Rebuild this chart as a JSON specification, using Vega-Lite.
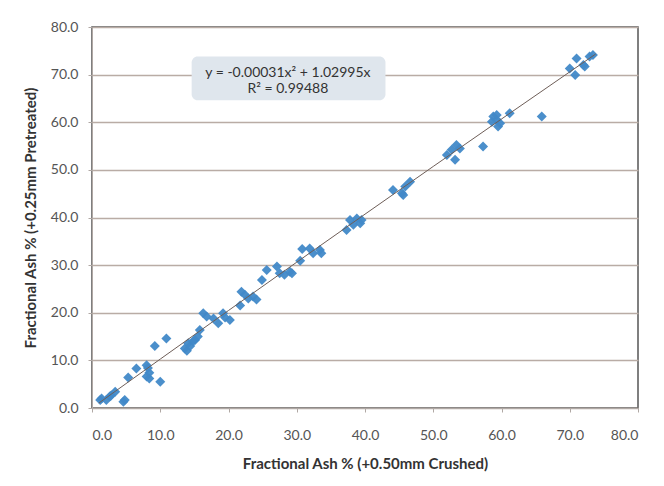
{
  "$schema": "https://vega.github.io/schema/vega-lite/v6.json",
  "autosize": "none",
  "width": 546,
  "height": 381,
  "padding": {"left": 92, "top": 27, "right": 26, "bottom": 78},
  "background": "white",
  "config": {
    "font": "Lato",
    "view": {"stroke": "#555555", "strokeWidth": 1.5},
    "axis": {
      "labelFont": "Lato", "labelFontSize": 14, "labelColor": "#555555",
      "titleFont": "Lato", "titleFontSize": 15, "titleFontWeight": "bold", "titleColor": "#333333",
      "domainColor": "#b0a8a4", "tickColor": "#b0a8a4", "tickSize": 4,
      "gridColor": "#b9aca5", "gridWidth": 1.3
    }
  },
  "datasets": {
    "pts": [
      {"x": 1.2, "y": 1.7}, {"x": 1.4, "y": 2.0}, {"x": 2.1, "y": 1.7}, {"x": 2.6, "y": 2.4}, {"x": 2.8, "y": 2.6},
      {"x": 3.4, "y": 3.4}, {"x": 4.8, "y": 1.7}, {"x": 4.6, "y": 1.3}, {"x": 5.3, "y": 6.4}, {"x": 6.5, "y": 8.3},
      {"x": 8.0, "y": 9.0}, {"x": 8.2, "y": 8.4}, {"x": 8.0, "y": 6.6}, {"x": 8.4, "y": 6.2}, {"x": 8.4, "y": 7.4},
      {"x": 9.2, "y": 13.0}, {"x": 10.0, "y": 5.5}, {"x": 10.9, "y": 14.6}, {"x": 13.6, "y": 12.5}, {"x": 13.9, "y": 12.0},
      {"x": 14.1, "y": 13.6}, {"x": 14.4, "y": 13.0}, {"x": 14.8, "y": 14.0}, {"x": 15.1, "y": 14.3}, {"x": 15.5, "y": 15.0},
      {"x": 15.8, "y": 16.4}, {"x": 16.3, "y": 19.9}, {"x": 16.8, "y": 19.2}, {"x": 17.8, "y": 18.8}, {"x": 18.5, "y": 17.8},
      {"x": 19.2, "y": 19.9}, {"x": 19.5, "y": 19.0}, {"x": 20.2, "y": 18.5}, {"x": 21.7, "y": 21.5}, {"x": 21.9, "y": 24.4},
      {"x": 22.4, "y": 23.8}, {"x": 22.9, "y": 23.0}, {"x": 23.6, "y": 23.4}, {"x": 24.1, "y": 22.8}, {"x": 24.9, "y": 26.9},
      {"x": 25.6, "y": 29.0}, {"x": 27.1, "y": 29.7}, {"x": 27.5, "y": 28.3}, {"x": 28.2, "y": 28.0}, {"x": 29.0, "y": 28.6},
      {"x": 29.3, "y": 28.3}, {"x": 30.5, "y": 30.9}, {"x": 30.8, "y": 33.4}, {"x": 31.9, "y": 33.5}, {"x": 32.4, "y": 32.5},
      {"x": 33.4, "y": 33.2}, {"x": 33.6, "y": 32.5}, {"x": 37.3, "y": 37.4}, {"x": 37.8, "y": 39.5}, {"x": 38.3, "y": 38.5},
      {"x": 38.8, "y": 39.8}, {"x": 39.3, "y": 38.8}, {"x": 39.5, "y": 39.5}, {"x": 44.1, "y": 45.8}, {"x": 45.4, "y": 45.1},
      {"x": 45.6, "y": 44.7}, {"x": 45.9, "y": 46.5}, {"x": 46.6, "y": 47.5}, {"x": 52.0, "y": 53.1}, {"x": 52.7, "y": 54.2},
      {"x": 53.2, "y": 52.1}, {"x": 53.4, "y": 55.2}, {"x": 53.9, "y": 54.5}, {"x": 57.3, "y": 54.9}, {"x": 58.6, "y": 60.1},
      {"x": 58.8, "y": 61.2}, {"x": 59.3, "y": 60.5}, {"x": 59.5, "y": 59.1}, {"x": 59.8, "y": 59.8}, {"x": 59.3, "y": 61.5},
      {"x": 61.2, "y": 61.9}, {"x": 65.9, "y": 61.2}, {"x": 70.0, "y": 71.3}, {"x": 70.8, "y": 69.9}, {"x": 71.0, "y": 73.4},
      {"x": 72.0, "y": 72.0}, {"x": 72.2, "y": 71.7}, {"x": 72.9, "y": 73.8}, {"x": 73.4, "y": 74.1}
    ],
    "trend": [
      {"x": 1.0, "y": 1.0296}, {"x": 10, "y": 10.2685}, {"x": 20, "y": 20.475}, {"x": 30, "y": 30.6195},
      {"x": 40, "y": 40.702}, {"x": 50, "y": 50.7225}, {"x": 60, "y": 60.681}, {"x": 70, "y": 70.5775}, {"x": 73.8, "y": 74.33}
    ],
    "box": [{"x": 14.6, "x2": 43.0, "y": 73.8, "y2": 64.6}],
    "label": [
      {"x": 28.7, "y": 70.3, "t": "y = -0.00031x² + 1.02995x"},
      {"x": 28.7, "y": 67.0, "t": "R² = 0.99488"}
    ]
  },
  "layer": [
    {
      "data": {"name": "box"},
      "mark": {"type": "rect", "fill": "#dfe6ed", "cornerRadius": 6},
      "encoding": {
        "x": {"field": "x", "type": "quantitative", "scale": {"domain": [0, 80]},
              "axis": {"title": "Fractional Ash % (+0.50mm Crushed)", "values": [0,10,20,30,40,50,60,70,80], "format": ".1f", "grid": false, "labelPadding": 16, "titlePadding": 14}},
        "x2": {"field": "x2"},
        "y": {"field": "y", "type": "quantitative", "scale": {"domain": [0, 80]},
              "axis": {"title": "Fractional Ash % (+0.25mm Pretreated)", "values": [0,10,20,30,40,50,60,70,80], "format": ".1f", "labelPadding": 10, "titlePadding": 12}},
        "y2": {"field": "y2"}
      }
    },
    {
      "data": {"name": "pts"},
      "mark": {"type": "point", "shape": "diamond", "filled": true, "size": 100, "color": "#4189c8", "opacity": 0.95},
      "encoding": {
        "x": {"field": "x", "type": "quantitative"},
        "y": {"field": "y", "type": "quantitative"}
      }
    },
    {
      "data": {"name": "trend"},
      "mark": {"type": "line", "color": "#6e5e58", "strokeWidth": 1},
      "encoding": {
        "x": {"field": "x", "type": "quantitative"},
        "y": {"field": "y", "type": "quantitative"}
      }
    },
    {
      "data": {"name": "label"},
      "mark": {"type": "text", "fontSize": 14, "color": "#333333", "font": "Lato"},
      "encoding": {
        "x": {"field": "x", "type": "quantitative"},
        "y": {"field": "y", "type": "quantitative"},
        "text": {"field": "t"}
      }
    }
  ]
}
